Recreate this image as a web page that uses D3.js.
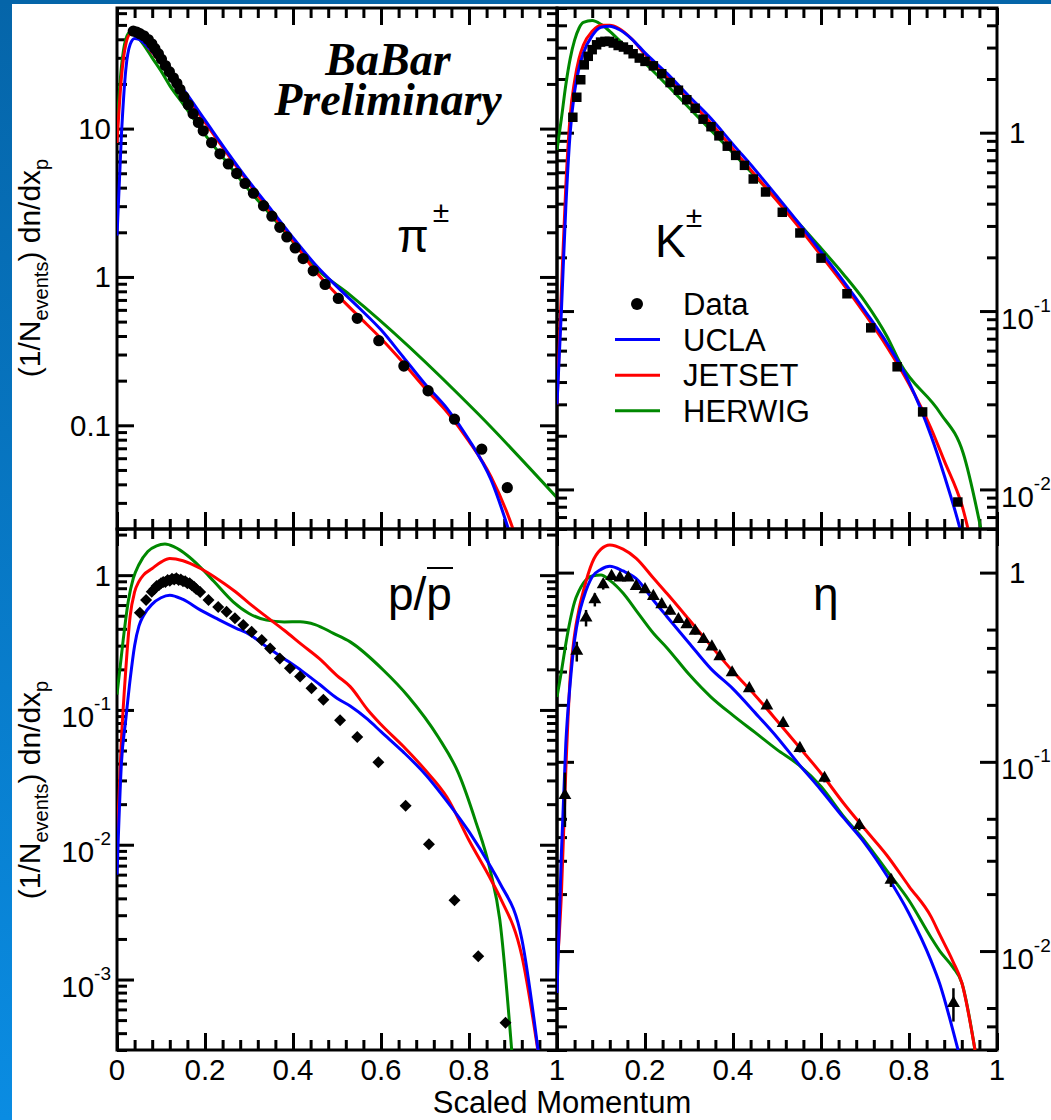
<!DOCTYPE html>
<html>
<head>
<meta charset="utf-8">
<script src="https://cdn.jsdelivr.net/npm/d3@7/dist/d3.min.js"></script>
<style>
  body { margin: 0; background: #fff; }
  svg { display: block; }
  text { font-family: "Liberation Sans", Arial, Helvetica, sans-serif; fill: #000; }
</style>
</head>
<body>
<svg id="chart" width="1051" height="1120"></svg>
<script>
// ---- values ----

// pi+- (top left)
const pionDataX = [0.037, 0.045, 0.052, 0.061, 0.071, 0.079, 0.086, 0.094, 0.101, 0.110, 0.119, 0.128, 0.136, 0.143, 0.152, 0.162, 0.173, 0.185, 0.196, 0.215, 0.234, 0.253, 0.272, 0.291, 0.310, 0.333, 0.352, 0.370, 0.386, 0.405, 0.423, 0.446, 0.473, 0.503, 0.546, 0.595, 0.652, 0.707, 0.767, 0.829, 0.887];
const pionDataY = [45.4, 44.7, 43.6, 42.2, 39.8, 37.3, 34.7, 32.0, 29.4, 26.6, 24.2, 22.0, 20.2, 18.4, 16.4, 14.5, 12.6, 11.0, 9.66, 8.04, 6.76, 5.78, 4.98, 4.27, 3.67, 3.02, 2.57, 2.16, 1.86, 1.57, 1.33, 1.10, 0.89, 0.716, 0.526, 0.372, 0.251, 0.171, 0.110, 0.069, 0.038];
const pionCurveX = [0, 0.01, 0.02, 0.03, 0.04, 0.05, 0.06, 0.08, 0.1, 0.12, 0.15, 0.2, 0.25, 0.3, 0.35, 0.4, 0.45, 0.5, 0.55, 0.6, 0.65, 0.7, 0.75, 0.8, 0.85, 0.9, 0.95, 1.0];
const pionUCLA   = [1.9, 9, 25, 37, 40.5, 40, 38, 33, 28, 23.8, 18.5, 11.4, 7.0, 4.4, 2.85, 1.84, 1.22, 0.86, 0.62, 0.44, 0.29, 0.19, 0.13, 0.08, 0.043, 0.016, 0.005, 0.002];
const pionJETSET = [8, 22, 37, 43, 43, 41, 38.5, 32.5, 27.5, 23.3, 18, 11, 6.8, 4.25, 2.7, 1.75, 1.1, 0.76, 0.54, 0.385, 0.265, 0.178, 0.123, 0.078, 0.045, 0.02, 0.006, 0.002];
const pionHerwigX = [0, 0.01, 0.02, 0.03, 0.04, 0.05, 0.06, 0.08, 0.1, 0.12, 0.15, 0.2, 0.25, 0.3, 0.35, 0.4, 0.45, 0.53, 0.82, 1.0];
const pionHERWIG  = [10.5, 26, 40, 45, 44, 40.5, 37, 30, 24.5, 19.5, 14.7, 9.1, 5.9, 3.85, 2.6, 1.72, 1.16, 0.755, 0.12, 0.0325];

// K+- (top right)
const kaonDataX = [0.036, 0.045, 0.054, 0.062, 0.071, 0.080, 0.090, 0.099, 0.109, 0.119, 0.128, 0.139, 0.151, 0.162, 0.173, 0.187, 0.200, 0.219, 0.238, 0.257, 0.276, 0.295, 0.314, 0.332, 0.350, 0.368, 0.387, 0.406, 0.426, 0.446, 0.474, 0.512, 0.552, 0.600, 0.659, 0.713, 0.773, 0.831, 0.911];
const kaonDataY = [1.22, 1.58, 1.98, 2.40, 2.68, 2.92, 3.11, 3.22, 3.25, 3.25, 3.18, 3.08, 3.02, 2.92, 2.77, 2.62, 2.51, 2.37, 2.14, 1.91, 1.73, 1.53, 1.37, 1.19, 1.08, 0.96, 0.84, 0.746, 0.656, 0.55, 0.465, 0.358, 0.274, 0.198, 0.125, 0.0805, 0.0487, 0.0272, 0.0085];
const kaonCurveX = [0, 0.01, 0.02, 0.03, 0.04, 0.05, 0.06, 0.08, 0.1, 0.12, 0.14, 0.17, 0.2, 0.25, 0.3, 0.35, 0.4, 0.45, 0.5, 0.55, 0.6, 0.65, 0.7, 0.75, 0.8, 0.85, 0.88, 0.92, 0.95, 1.0];
const kaonUCLA   = [0.03, 0.1, 0.38, 1.0, 1.7, 2.3, 2.8, 3.5, 3.9, 3.95, 3.8, 3.35, 2.8, 2.15, 1.6, 1.2, 0.86, 0.62, 0.44, 0.31, 0.215, 0.148, 0.1, 0.066, 0.04, 0.02, 0.012, 0.0055, 0.0025, 0.001];
const kaonJETSET = [0.03, 0.13, 0.5, 1.25, 1.95, 2.6, 3.1, 3.7, 4.0, 4.0, 3.85, 3.35, 2.75, 2.05, 1.52, 1.13, 0.81, 0.58, 0.415, 0.295, 0.205, 0.142, 0.096, 0.063, 0.039, 0.022, 0.0145, 0.0082, 0.0042, 0.002];
const kaonHerwigX = [0, 0.01, 0.02, 0.03, 0.04, 0.05, 0.06, 0.08, 0.1, 0.12, 0.15, 0.2, 0.25, 0.3, 0.35, 0.4, 0.45, 0.5, 0.55, 0.6, 0.65, 0.7, 0.75, 0.78, 0.87, 0.923, 0.97];
const kaonHERWIG  = [0.8, 1.2, 1.85, 2.6, 3.3, 3.85, 4.15, 4.25, 4.05, 3.7, 3.15, 2.45, 1.85, 1.38, 1.03, 0.77, 0.57, 0.42, 0.31, 0.225, 0.162, 0.113, 0.072, 0.051, 0.027, 0.016, 0.005];

// p/pbar (bottom left)
const protonDataX = [0.052, 0.066, 0.079, 0.085, 0.09, 0.095, 0.1, 0.105, 0.11, 0.115, 0.12, 0.125, 0.13, 0.135, 0.14, 0.145, 0.15, 0.155, 0.16, 0.165, 0.17, 0.175, 0.18, 0.189, 0.208, 0.23, 0.249, 0.268, 0.287, 0.306, 0.329, 0.348, 0.37, 0.393, 0.416, 0.442, 0.469, 0.507, 0.546, 0.594, 0.656, 0.709, 0.767, 0.821, 0.883];
const protonDataY = [0.526, 0.653, 0.753, 0.79, 0.83, 0.84, 0.87, 0.89, 0.89, 0.92, 0.91, 0.94, 0.93, 0.95, 0.92, 0.93, 0.9, 0.9, 0.87, 0.87, 0.84, 0.82, 0.79, 0.75, 0.653, 0.58, 0.535, 0.478, 0.426, 0.38, 0.33, 0.286, 0.241, 0.204, 0.177, 0.145, 0.119, 0.084, 0.063, 0.041, 0.0195, 0.0101, 0.00387, 0.00149, 0.000478];
const protonCurveX = [0, 0.01, 0.02, 0.03, 0.04, 0.05, 0.06, 0.08, 0.1, 0.12, 0.15, 0.19, 0.23, 0.27, 0.3, 0.34, 0.38, 0.42, 0.46, 0.5, 0.53, 0.57, 0.6, 0.65, 0.7, 0.75, 0.8, 0.85, 0.87, 0.92, 0.96];
const protonUCLA   = [0.006, 0.04, 0.085, 0.17, 0.3, 0.42, 0.5, 0.61, 0.68, 0.71, 0.66, 0.55, 0.47, 0.405, 0.365, 0.294, 0.24, 0.195, 0.155, 0.122, 0.107, 0.085, 0.069, 0.049, 0.0335, 0.021, 0.0125, 0.0068, 0.0052, 0.002, 0.00025];
const protonJETSET = [0.01, 0.06, 0.2, 0.5, 0.75, 0.9, 1.0, 1.12, 1.25, 1.33, 1.28, 1.12, 0.93, 0.75, 0.62, 0.49, 0.39, 0.305, 0.24, 0.18, 0.149, 0.1, 0.078, 0.054, 0.036, 0.0225, 0.0108, 0.0055, 0.0041, 0.0015, 0.00025];
const protonHerwigX = [0, 0.014, 0.026, 0.037, 0.05, 0.07, 0.09, 0.109, 0.13, 0.16, 0.189, 0.22, 0.264, 0.3, 0.34, 0.38, 0.416, 0.45, 0.492, 0.53, 0.605, 0.662, 0.73, 0.776, 0.814, 0.848, 0.87, 0.897];
const protonHERWIG  = [0.13, 0.33, 0.65, 0.945, 1.2, 1.5, 1.65, 1.7, 1.62, 1.4, 1.15, 0.9, 0.634, 0.52, 0.464, 0.45, 0.451, 0.43, 0.37, 0.32, 0.198, 0.126, 0.063, 0.034, 0.0153, 0.0065, 0.00278, 0.0003];

// eta (bottom right)
const etaDataX = [0.018, 0.045, 0.066, 0.086, 0.105, 0.124, 0.143, 0.162, 0.18, 0.2, 0.219, 0.238, 0.257, 0.276, 0.295, 0.314, 0.333, 0.352, 0.37, 0.398, 0.437, 0.477, 0.514, 0.552, 0.608, 0.687, 0.759, 0.901];
const etaDataY = [0.0665, 0.385, 0.577, 0.72, 0.865, 0.957, 0.94, 0.94, 0.847, 0.814, 0.75, 0.679, 0.626, 0.566, 0.532, 0.491, 0.444, 0.406, 0.36, 0.296, 0.244, 0.198, 0.16, 0.118, 0.082, 0.0462, 0.0237, 0.0053];
const etaDataErr = [0.32, 0.12, 0.1, 0.08, 0.06, 0.04, 0.04, 0.04, 0.04, 0.04, 0.04, 0.04, 0.04, 0.04, 0.04, 0.04, 0.04, 0.04, 0.04, 0.04, 0.04, 0.04, 0.04, 0.05, 0.05, 0.06, 0.08, 0.2];
const etaCurveX = [0, 0.01, 0.02, 0.03, 0.04, 0.05, 0.06, 0.08, 0.1, 0.12, 0.15, 0.18, 0.22, 0.25, 0.3, 0.35, 0.4, 0.45, 0.5, 0.55, 0.6, 0.65, 0.7, 0.75, 0.8, 0.85, 0.87, 0.9, 0.92, 0.95];
const etaUCLA   = [0.006, 0.033, 0.125, 0.26, 0.44, 0.6, 0.73, 0.95, 1.04, 1.08, 1.02, 0.93, 0.71, 0.585, 0.425, 0.31, 0.243, 0.182, 0.135, 0.097, 0.071, 0.051, 0.037, 0.025, 0.0158, 0.0089, 0.0067, 0.0038, 0.0025, 0.0012];
const etaJETSET = [0.008, 0.02, 0.09, 0.28, 0.47, 0.64, 0.8, 1.13, 1.33, 1.4, 1.33, 1.19, 0.93, 0.775, 0.565, 0.41, 0.3, 0.225, 0.165, 0.12, 0.087, 0.061, 0.044, 0.032, 0.022, 0.0152, 0.0122, 0.0088, 0.0068, 0.003];
const etaHERWIG = [0.22, 0.3, 0.42, 0.56, 0.7, 0.8, 0.88, 0.96, 0.97, 0.91, 0.78, 0.63, 0.475, 0.4, 0.29, 0.22, 0.176, 0.143, 0.116, 0.096, 0.074, 0.052, 0.038, 0.0265, 0.0185, 0.0118, 0.01, 0.0082, 0.0068, 0.003];

// axis ticks
const xMajorTicks = [0, 0.2, 0.4, 0.6, 0.8, 1];
const xTickLabels = ["0", "0.2", "0.4", "0.6", "0.8", "1"];
const legendNames = ["Data", "UCLA", "JETSET", "HERWIG"];
const modelColors = { UCLA: "#0000ff", JETSET: "#ff0000", HERWIG: "#008800" };

const svg = d3.select("#chart");
const defs = svg.append("defs");

// slide background strip
const grad = defs.append("linearGradient").attr("id", "slide")
  .attr("x1", 0).attr("y1", 0).attr("x2", 0).attr("y2", 1);
grad.append("stop").attr("offset", 0).attr("stop-color", "#0565a9");
grad.append("stop").attr("offset", 1).attr("stop-color", "#0a8ce2");
svg.append("rect").attr("width", 12).attr("height", 1120).attr("fill", "url(#slide)");
svg.append("rect").attr("width", 1051).attr("height", 4).attr("fill", "#0565a9");

const zip = (xs, ys) => xs.map((v, i) => [v, ys[i]]);

const panels = [
  { id: "pi", x0: 117, x1: 557, y0: 8, y1: 529, lo: 0.02, hi: 65, side: "left", fmt: "plain",
    minor: [2, 3, 4, 5, 6, 7, 8, 9], xLabels: null,
    data: zip(pionDataX, pionDataY), symbol: "circle",
    curves: [["HERWIG", zip(pionHerwigX, pionHERWIG)], ["JETSET", zip(pionCurveX, pionJETSET)], ["UCLA", zip(pionCurveX, pionUCLA)]] },
  { id: "k", x0: 557, x1: 997, y0: 8, y1: 529, lo: 0.006, hi: 5, side: "right", fmt: "exp",
    minor: [2, 3, 4, 5, 6, 7, 8, 9], xLabels: null,
    data: zip(kaonDataX, kaonDataY), symbol: "square",
    curves: [["HERWIG", zip(kaonHerwigX, kaonHERWIG)], ["JETSET", zip(kaonCurveX, kaonJETSET)], ["UCLA", zip(kaonCurveX, kaonUCLA)]] },
  { id: "p", x0: 117, x1: 557, y0: 529, y1: 1050, lo: 0.0003, hi: 2.2, side: "left", fmt: "exp",
    minor: [2, 3, 4, 5, 6, 7, 8, 9], xLabels: [0, 1, 2, 3, 4, 5],
    data: zip(protonDataX, protonDataY), symbol: "diamond",
    curves: [["HERWIG", zip(protonHerwigX, protonHERWIG)], ["JETSET", zip(protonCurveX, protonJETSET)], ["UCLA", zip(protonCurveX, protonUCLA)]] },
  { id: "eta", x0: 557, x1: 997, y0: 529, y1: 1050, lo: 0.003, hi: 1.7, side: "right", fmt: "exp",
    minor: [2, 3, 4, 5], xLabels: [1, 2, 3, 4, 5],
    data: zip(etaDataX, etaDataY), err: etaDataErr, symbol: "triangle",
    curves: [["HERWIG", zip(etaCurveX, etaHERWIG)], ["JETSET", zip(etaCurveX, etaJETSET)], ["UCLA", zip(etaCurveX, etaUCLA)]] }
];

function logTicks(lo, hi, mults) {
  const out = [];
  for (let e = Math.floor(Math.log10(lo)); e <= Math.ceil(Math.log10(hi)); e++) {
    for (const m of mults) {
      const v = +(m * Math.pow(10, e)).toPrecision(6);
      if (v >= lo * 0.999 && v <= hi * 1.001) out.push(v);
    }
  }
  return out;
}

function addTicks(g, axis, tr) {
  g.append("g").attr("transform", tr).call(axis)
    .call(s => s.select(".domain").remove())
    .call(s => s.selectAll("text").remove())
    .selectAll("line").attr("stroke", "#000").attr("stroke-width", 3);
}

const xMinorTicks = d3.range(1, 25).filter(i => i % 5 !== 0).map(i => i * 0.04);

panels.forEach(p => {
  const x = d3.scaleLinear().domain([0, 1]).range([p.x0, p.x1]);
  const y = d3.scaleLog().domain([p.lo, p.hi]).range([p.y1, p.y0]);
  const g = svg.append("g").attr("class", "panel-" + p.id);

  defs.append("clipPath").attr("id", "clip-" + p.id).append("rect")
    .attr("x", p.x0).attr("y", p.y0).attr("width", p.x1 - p.x0).attr("height", p.y1 - p.y0);

  // ticks on all four sides, pointing inwards
  const yMajor = logTicks(p.lo, p.hi, [1]);
  const yMinor = logTicks(p.lo, p.hi, p.minor);
  [[xMajorTicks, 17], [xMinorTicks, 10]].forEach(([vals, len]) => {
    addTicks(g, d3.axisBottom(x).tickValues(vals).tickSize(-len).tickSizeOuter(0), `translate(0,${p.y1})`);
    addTicks(g, d3.axisTop(x).tickValues(vals).tickSize(-len).tickSizeOuter(0), `translate(0,${p.y0})`);
  });
  [[yMajor, 17], [yMinor, 10]].forEach(([vals, len]) => {
    addTicks(g, d3.axisLeft(y).tickValues(vals).tickSize(-len).tickSizeOuter(0), `translate(${p.x0},0)`);
    addTicks(g, d3.axisRight(y).tickValues(vals).tickSize(-len).tickSizeOuter(0), `translate(${p.x1},0)`);
  });

  g.append("rect").attr("x", p.x0).attr("y", p.y0)
    .attr("width", p.x1 - p.x0).attr("height", p.y1 - p.y0)
    .attr("fill", "none").attr("stroke", "#000").attr("stroke-width", 3);

  // y tick labels
  yMajor.forEach(v => {
    const e = Math.round(Math.log10(v));
    const isExp = p.fmt === "exp" && e !== 0;
    const t = g.append("text").attr("font-size", 29.5);
    if (p.side === "left") {
      t.attr("x", p.x0 - 6).attr("text-anchor", "end");
    } else {
      t.attr("x", p.x1 + (isExp ? 4 : 12)).attr("text-anchor", "start");
    }
    t.attr("y", y(v) + (isExp ? 17.5 : 10.5));
    if (isExp) {
      t.append("tspan").text("10");
      t.append("tspan").attr("dy", -17).attr("font-size", 19).text(String(e));
    } else {
      t.text(p.fmt === "plain" ? d3.format("~g")(v) : "1");
    }
  });

  // x tick labels on the bottom row
  if (p.xLabels) {
    p.xLabels.forEach(i => {
      g.append("text").attr("x", x(xMajorTicks[i])).attr("y", 1080)
        .attr("text-anchor", "middle").attr("font-size", 29.5).text(xTickLabels[i]);
    });
  }

  // model curves
  const line = d3.line().x(d => x(d[0])).y(d => y(d[1])).curve(d3.curveMonotoneX);
  const cg = g.append("g").attr("clip-path", `url(#clip-${p.id})`);
  p.curves.forEach(([name, pts]) => {
    cg.append("path").datum(pts).attr("d", line)
      .attr("fill", "none").attr("stroke", modelColors[name]).attr("stroke-width", 3);
  });

  // data points
  if (p.err) {
    cg.selectAll("line.err").data(p.data).enter().append("line")
      .attr("x1", d => x(d[0])).attr("x2", d => x(d[0]))
      .attr("y1", (d, i) => y(d[1] * (1 - p.err[i]))).attr("y2", (d, i) => y(d[1] * (1 + p.err[i])))
      .attr("stroke", "#000").attr("stroke-width", 2.5);
  }
  const symType = { circle: d3.symbolCircle, square: d3.symbolSquare, diamond: d3.symbolSquare, triangle: d3.symbolTriangle }[p.symbol];
  const symSize = { circle: 100, square: 90, diamond: 72, triangle: 72 }[p.symbol];
  cg.selectAll("path.pt").data(p.data).enter().append("path")
    .attr("d", d3.symbol().type(symType).size(symSize))
    .attr("transform", d => `translate(${x(d[0])},${y(d[1])})` + (p.symbol === "diamond" ? " rotate(45)" : ""))
    .attr("fill", "#000");
});

// particle labels
function particle(xp, yp, main, sup, supDx, supDy) {
  const t = svg.append("text").attr("x", xp).attr("y", yp).attr("font-size", 46);
  t.append("tspan").text(main);
  if (sup) t.append("tspan").attr("font-size", 30).attr("dx", supDx).attr("dy", supDy).text(sup);
  return t;
}
particle(397, 252, "\u03c0", "\u00b1", 4, -30);
particle(655, 257, "K", "\u00b1", 0, -30);
svg.append("text").attr("x", 388).attr("y", 610).attr("font-size", 46).text("p/p");
svg.append("line").attr("x1", 427).attr("x2", 453).attr("y1", 568).attr("y2", 568)
  .attr("stroke", "#000").attr("stroke-width", 2);
particle(813, 610, "\u03b7", null);

// BaBar Preliminary (one text, two lines)
const babar = svg.append("text").attr("text-anchor", "middle").attr("font-size", 46)
  .style("font-family", "'Liberation Serif', 'Times New Roman', serif")
  .style("font-weight", "bold").style("font-style", "italic");
babar.append("tspan").attr("x", 388).attr("y", 75).text("BaBar");
babar.append("tspan").attr("x", 388).attr("dy", 40).text("Preliminary");

// legend
const lg = svg.append("g").attr("class", "legend");
legendNames.forEach((name, i) => {
  const yy = 304 + i * 35.6;
  if (i === 0) {
    lg.append("circle").attr("cx", 637).attr("cy", yy).attr("r", 6).attr("fill", "#000");
  } else {
    lg.append("line").attr("x1", 615).attr("x2", 660).attr("y1", yy).attr("y2", yy)
      .attr("stroke", modelColors[name]).attr("stroke-width", 3);
  }
  lg.append("text").attr("x", 683).attr("y", yy + 11).attr("font-size", 31).text(name);
});

// axis titles
[268, 790].forEach(cy => {
  const t = svg.append("text").attr("transform", `translate(40,${cy}) rotate(-90)`)
    .attr("text-anchor", "middle").attr("font-size", 30);
  t.append("tspan").text("(1/N");
  t.append("tspan").attr("font-size", 20).attr("dy", 8).text("events");
  t.append("tspan").attr("dy", -8).text(") dn/dx");
  t.append("tspan").attr("font-size", 20).attr("dy", 8).text("p");
});
svg.append("text").attr("x", 562).attr("y", 1113).attr("text-anchor", "middle")
  .attr("font-size", 31).text("Scaled Momentum");
</script>
</body>
</html>
